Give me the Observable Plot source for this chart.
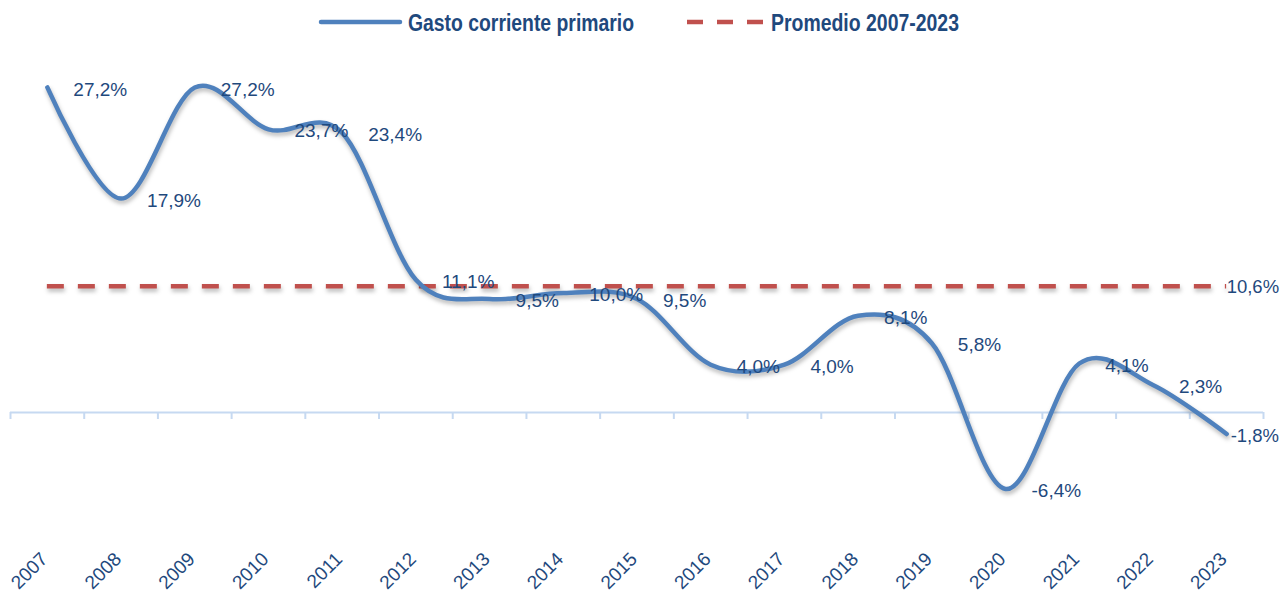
<!DOCTYPE html>
<html>
<head>
<meta charset="utf-8">
<script src="https://cdn.jsdelivr.net/npm/d3@7"></script>
<script src="https://cdn.jsdelivr.net/npm/@observablehq/plot@0.6"></script>
<style>
  html, body { margin: 0; padding: 0; background: #ffffff; overflow: hidden; }
  #legend { display: flex; justify-content: center; align-items: center; height: 45px; gap: 52px; }
  #legend svg { display: block; overflow: visible; }
  #chart svg { display: block; }
</style>
</head>
<body>
<div id="legend"></div>
<div id="chart"></div>
<script>
// ---- data ----
const years = [2007, 2008, 2009, 2010, 2011, 2012, 2013, 2014, 2015, 2016, 2017, 2018, 2019, 2020, 2021, 2022, 2023];
const gasto = [27.2, 17.9, 27.2, 23.7, 23.4, 11.1, 9.5, 10.0, 9.5, 4.0, 4.0, 8.1, 5.8, -6.4, 4.1, 2.3, -1.8];
const seriesNames = ["Gasto corriente primario", "Promedio 2007-2023"];

// ---- styles ----
const blue = "#4f81bd";
const red = "#c0504d";
const navy = "#1f497d";
const axisBlue = "#c6d9f1";
const shadow = "drop-shadow(1px 3px 2px rgba(0,0,0,0.28))";

const data = years.map((year, i) => ({year, value: gasto[i]}));
const avg = d3.mean(gasto);
const fmt = v => v.toFixed(1).replace(".", ",") + "%";
const first = years[0], last = years[years.length - 1];
const bounds = years.map(y => y - 0.5).concat([last + 0.5]);

// ---- legend ----
const legend = d3.select("#legend");
function legendItem(name, color, dash, lineLen, textLen) {
  const w = lineLen + 9 + textLen;
  const svg = legend.append("svg").attr("width", w).attr("height", 45);
  svg.append("line")
    .attr("x1", 0).attr("x2", lineLen).attr("y1", 22).attr("y2", 22)
    .attr("stroke", color).attr("stroke-width", 4.5)
    .attr("stroke-dasharray", dash || null)
    .attr("stroke-linecap", dash ? "butt" : "round");
  svg.append("text")
    .attr("x", lineLen + 8).attr("y", 31)
    .attr("fill", navy)
    .attr("font-family", "'Liberation Sans Narrow','Arial Narrow','Liberation Sans',Arial,sans-serif")
    .attr("font-weight", "bold").attr("font-size", 23.5)
    .attr("textLength", textLen).attr("lengthAdjust", "spacingAndGlyphs")
    .text(name);
}
legendItem(seriesNames[0], blue, null, 79, 226);
legendItem(seriesNames[1], red, "16,14", 76, 188);

// ---- chart ----
const chart = Plot.plot({
  width: 1281,
  height: 547,
  marginLeft: 10,
  marginRight: 18,
  marginTop: 8.5,
  marginBottom: 60.5,
  style: {fontFamily: "'Liberation Sans', Arial, sans-serif", color: navy, background: "#ffffff"},
  x: {type: "linear", domain: [first - 0.5, last + 0.5], axis: null},
  y: {domain: [-10, 30], axis: null},
  marks: [
    Plot.ruleY([0], {stroke: axisBlue, strokeWidth: 2}),
    Plot.ruleX(bounds, {x: d => d, y1: 0, y2: 0, insetBottom: -7, stroke: axisBlue, strokeWidth: 2}),
    Plot.axisX({ticks: years, tickFormat: d => String(d), tickSize: 0, tickPadding: 24, tickRotate: -45, fontSize: 19, fill: navy, dx: -3, label: null}),
    Plot.ruleY([avg], {x1: first, x2: last, stroke: red, strokeWidth: 4.5, strokeDasharray: "17,14", imageFilter: shadow}),
    Plot.line(data, {x: "year", y: "value", curve: "cardinal", stroke: blue, strokeWidth: 4.5, imageFilter: shadow}),
    Plot.text(data.slice(0, -1), {x: "year", y: "value", text: d => fmt(d.value), dx: 26, dy: 2, textAnchor: "start", fontSize: 19, fill: navy}),
    Plot.text(data.slice(-1), {x: "year", y: "value", text: d => fmt(d.value), dx: 4, dy: 2, textAnchor: "start", fontSize: 18.5, fill: navy}),
    Plot.text([avg], {x: last, y: d => d, text: d => fmt(d), dx: 0, dy: 1, textAnchor: "start", fontSize: 18.5, fill: navy})
  ]
});
document.getElementById("chart").appendChild(chart);
</script>
</body>
</html>
